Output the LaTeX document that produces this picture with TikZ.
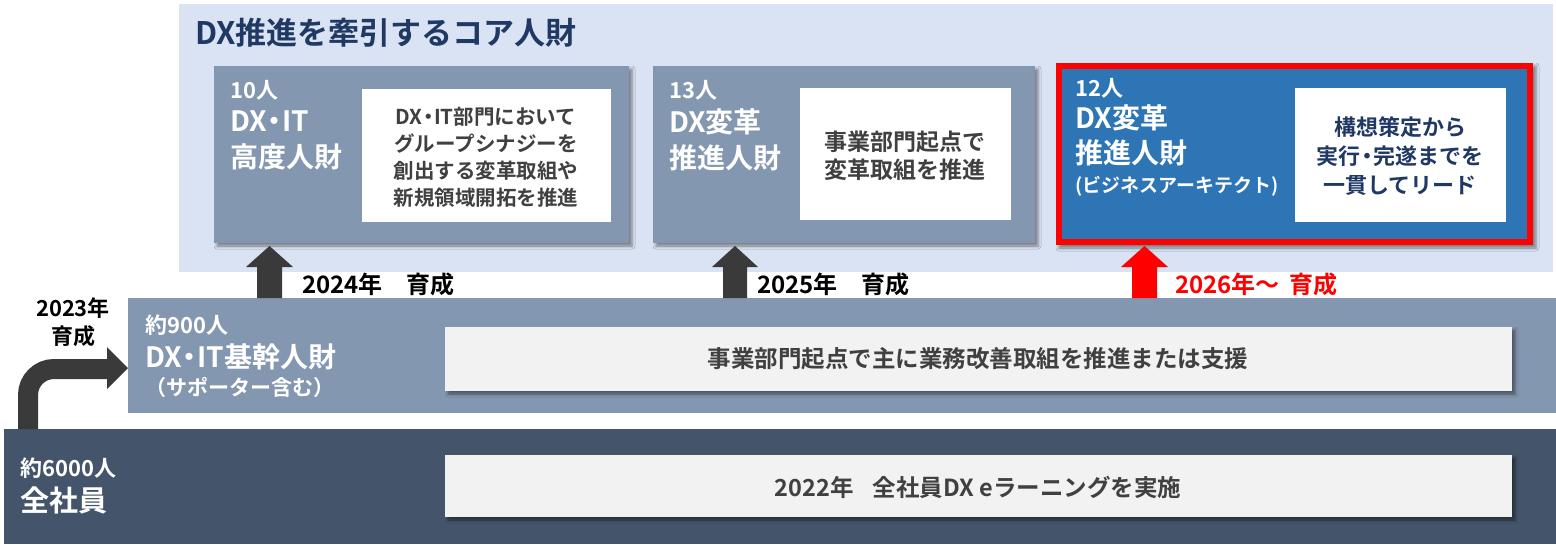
\documentclass[tikz,border=0pt]{standalone}
\usepackage{fontspec}
\setmainfont{Noto Sans CJK JP}[BoldFont=* Bold]
\usetikzlibrary{shadows.blur}
\definecolor{bglight}{HTML}{DAE3F3}
\definecolor{grayblue}{HTML}{8497B0}
\definecolor{darkband}{HTML}{44546A}
\definecolor{lightbox}{HTML}{F2F2F2}
\definecolor{txtgray}{HTML}{404040}
\definecolor{navy}{HTML}{1F3864}
\definecolor{midblue}{HTML}{2E75B6}
\definecolor{arrowdark}{HTML}{3A3A3A}
\definecolor{brightred}{HTML}{FF0000}
\newcommand\fsz[2]{\fontsize{#1}{#2}\selectfont\bfseries}
\newcommand\mdt{\kern-0.22em・\kern-0.22em}
\tikzset{
  shadowed/.style={blur shadow={shadow xshift=3pt,shadow yshift=-3pt,shadow blur radius=3pt,shadow opacity=45}},
  lefttxt/.style={anchor=west,inner sep=0pt,text=white,align=left},
  intxt/.style={inner sep=0pt,text=txtgray,align=center},
  yeartxt/.style={anchor=west,inner sep=0pt,text=black},
}
\begin{document}
\begin{tikzpicture}[x=1pt,y=-1pt]
\useasboundingbox[fill=white] (0,0) rectangle (1556,544);
% top light area
\fill[bglight] (179,4) rectangle (1553,272);
\node[anchor=west,inner sep=0pt,text=navy,font=\fsz{31}{33}] (title) at (195,33) {DX推進を牽引するコア人財};
% box 1
\fill[grayblue,shadowed] (214,66) rectangle (629,243);
\fill[white] (362,89) rectangle (611,222);
\node[lefttxt,font=\fsz{22}{24}] (n1a) at (230,90) {10人};
\node[lefttxt,font=\fsz{28}{36}] (n1b) at (230,140) {DX\mdt IT\\高度人財};
\node[intxt,font=\fsz{20.5}{27}] (n1c) at (486,157) {DX\mdt IT部門において\\グループシナジーを\\創出する変革取組や\\新規領域開拓を推進};
% box 2
\fill[grayblue,shadowed] (653,66) rectangle (1035,243);
\fill[white] (800,88) rectangle (1011,220);
\node[lefttxt,font=\fsz{22}{24}] (n2a) at (669,90) {13人};
\node[lefttxt,font=\fsz{28}{36}] (n2b) at (669,140) {DX変革\\推進人財};
\node[intxt,font=\fsz{23}{28}] (n2c) at (905,156) {事業部門起点で\\変革取組を推進};
% box 3
\fill[brightred,shadowed] (1056,63) rectangle (1533,245);
\fill[midblue] (1062,69) rectangle (1527,239);
\fill[white] (1295,88) rectangle (1506,222);
\node[lefttxt,font=\fsz{22}{24}] (n3a) at (1075,88) {12人};
\node[lefttxt,font=\fsz{28}{35}] (n3b) at (1075,135) {DX変革\\推進人財};
\node[lefttxt,font=\fsz{19}{22}] (n3c) at (1075,186) {(ビジネスアーキテクト)};
\node[intxt,text=navy,font=\fsz{22}{29}] (n3d) at (1400,156) {構想策定から\\実行\mdt 完遂までを\\一貫してリード};
% middle band
\fill[grayblue] (128,298) rectangle (1556,413);
\fill[lightbox,shadowed] (445,327) rectangle (1512,391);
\node[lefttxt,font=\fsz{22}{24}] (m1) at (145,325) {約900人};
\node[lefttxt,font=\fsz{28}{30}] (m2) at (145,357) {DX\mdt IT基幹人財};
\node[lefttxt,font=\fsz{21}{23}] (m3) at (145,387) {（サポーター含む）};
\node[intxt,font=\fsz{23.5}{25}] (m4) at (978,359) {事業部門起点で主に業務改善取組を推進または支援};
% bottom band
\fill[darkband] (4,429) rectangle (1556,544);
\fill[lightbox,shadowed] (445,455) rectangle (1512,517);
\node[lefttxt,font=\fsz{22}{24}] (b1) at (20,468) {約6000人};
\node[lefttxt,font=\fsz{29}{31}] (b2) at (20,500) {全社員};
\node[intxt,font=\fsz{23.5}{25}] (b3) at (978,487) {2022年\hspace{0.8em}全社員DX eラーニングを実施};
% up arrows
\fill[arrowdark] (257,298) -- (257,267) -- (246,267) -- (269.5,246) -- (293,267) -- (282,267) -- (282,298) -- cycle;
\fill[arrowdark] (723,298) -- (723,267) -- (712,267) -- (735,246) -- (758,267) -- (747,267) -- (747,298) -- cycle;
\fill[brightred] (1132,298) -- (1132,267) -- (1121,267) -- (1144.5,246) -- (1168,267) -- (1157,267) -- (1157,298) -- cycle;
\node[yeartxt,font=\fsz{24}{26}] (y24) at (302,284) {2024年\hspace{1em}育成};
\node[yeartxt,font=\fsz{24}{26}] (y25) at (757,284) {2025年\hspace{1em}育成};
\node[yeartxt,text=brightred,font=\fsz{24}{26}] (y26) at (1175,284) {2026年〜\hspace{0.4em}育成};
% curved arrow
\coordinate (cs) at (28,429);
\coordinate (ce) at (109,369);
\draw[arrowdark,line width=20pt,rounded corners=26pt] (cs) |- (ce);
\fill[arrowdark] (107,347) -- (128,368) -- (107,389) -- cycle;
\node[inner sep=0pt,text=black,align=center,font=\fsz{22}{28}] (y23) at (73,322) {2023年\\育成};
\end{tikzpicture}
\end{document}
